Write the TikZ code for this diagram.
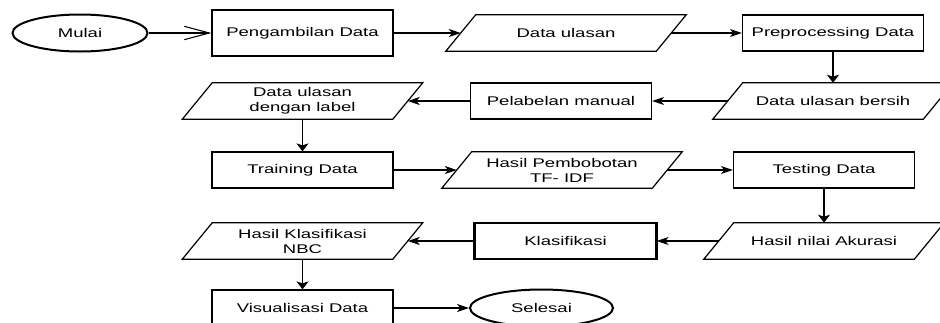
\documentclass[tikz,border=0pt]{standalone}
\usepackage{fontspec}
\setmainfont{Liberation Sans}[FakeStretch=1.47]
\usetikzlibrary{arrows.meta,shapes.geometric}

\begin{document}
\begin{tikzpicture}[x=0.75pt,y=0.75pt,yscale=-1,xscale=1,
	every node/.style={font=\fontsize{9.45}{11.25}\selectfont,align=center,inner sep=0.75pt},
	terminal/.style={draw,line width=1.5pt,ellipse,minimum width=101.25pt,minimum height=27.75pt},
	proses/.style={draw,line width=0.9pt,rectangle,minimum width=135.75pt,minimum height=27pt},
	dataio/.style={rectangle,minimum width=157.5pt,minimum height=27pt,
		append after command={\pgfextra{\let\induk\tikzlastnode
			\draw [line width=0.9pt] ([xshift=11.25pt]\induk.north west) -- ([xshift=11.25pt]\induk.north east) -- ([xshift=-11.25pt]\induk.south east) -- ([xshift=-11.25pt]\induk.south west) -- cycle;}}},
	panah/.style={line width=0.8pt,-{Stealth[length=9pt,width=6pt,inset=2.5pt]}},
	panahbawah/.style={line width=0.8pt,-{Stealth[length=6pt,width=9pt,inset=1.5pt]}}]
	\useasboundingbox (0,0) rectangle (940,322);
	\clip (0,0) rectangle (940,322);

	\draw (80,33) node [terminal] (mulai) {Mulai};
	\draw (302.5,33) node [proses,minimum height=34.5pt] (ambil) {Pengambilan Data};
	\draw (566,33) node [dataio] (ulasan) {Data ulasan};
	\draw (833,33) node [proses] (prepro) {Preprocessing Data};
	\draw (833,101) node [dataio] (bersih) {Data ulasan bersih};
	\draw (561,101) node [proses] (labelman) {Pelabelan manual};
	\draw (302.5,101) node [dataio] (berlabel) {Data ulasan\\dengan label};
	\draw (302.5,170) node [proses] (training) {Training Data};
	\draw (562,170) node [dataio] (bobot) {Hasil Pembobotan\\TF- IDF};
	\draw (824,170) node [proses] (testing) {Testing Data};
	\draw (824,241) node [dataio] (akurasi) {Hasil nilai Akurasi};
	\draw (565.5,241) node [proses] (klasifikasi) {Klasifikasi};
	\draw [line width=1.6pt] (klasifikasi.north west) -- (klasifikasi.south west) (klasifikasi.north east) -- (klasifikasi.south east);
	\draw (302.5,241) node [dataio] (nbc) {Hasil Klasifikasi\\NBC};
	\draw (302.5,308) node [proses] (visual) {Visualisasi Data};
	\draw (541.5,308) node [terminal,minimum width=107.25pt] (selesai) {Selesai};

	\draw [line width=0.8pt,-{Straight Barb[length=18.75pt,width=10pt]}] (mulai) -- (ambil);
	\draw [panah] (ambil) -- (ulasan);
	\draw [panah] (ulasan) -- (prepro);
	\draw [panahbawah] (prepro) -- (bersih);
	\draw [panah] (bersih) -- (labelman);
	\draw [panah] (labelman) -- (berlabel);
	\draw [panahbawah] (berlabel) -- (training);
	\draw [panah] (training) -- (bobot);
	\draw [panah] (bobot) -- (testing);
	\draw [panahbawah] (testing) -- (akurasi);
	\draw [panah] (akurasi) -- (klasifikasi);
	\draw [panah] (klasifikasi) -- (nbc);
	\draw [panahbawah] (nbc) -- (visual);
	\draw [panah] (visual) -- (selesai);
\end{tikzpicture}
\end{document}
